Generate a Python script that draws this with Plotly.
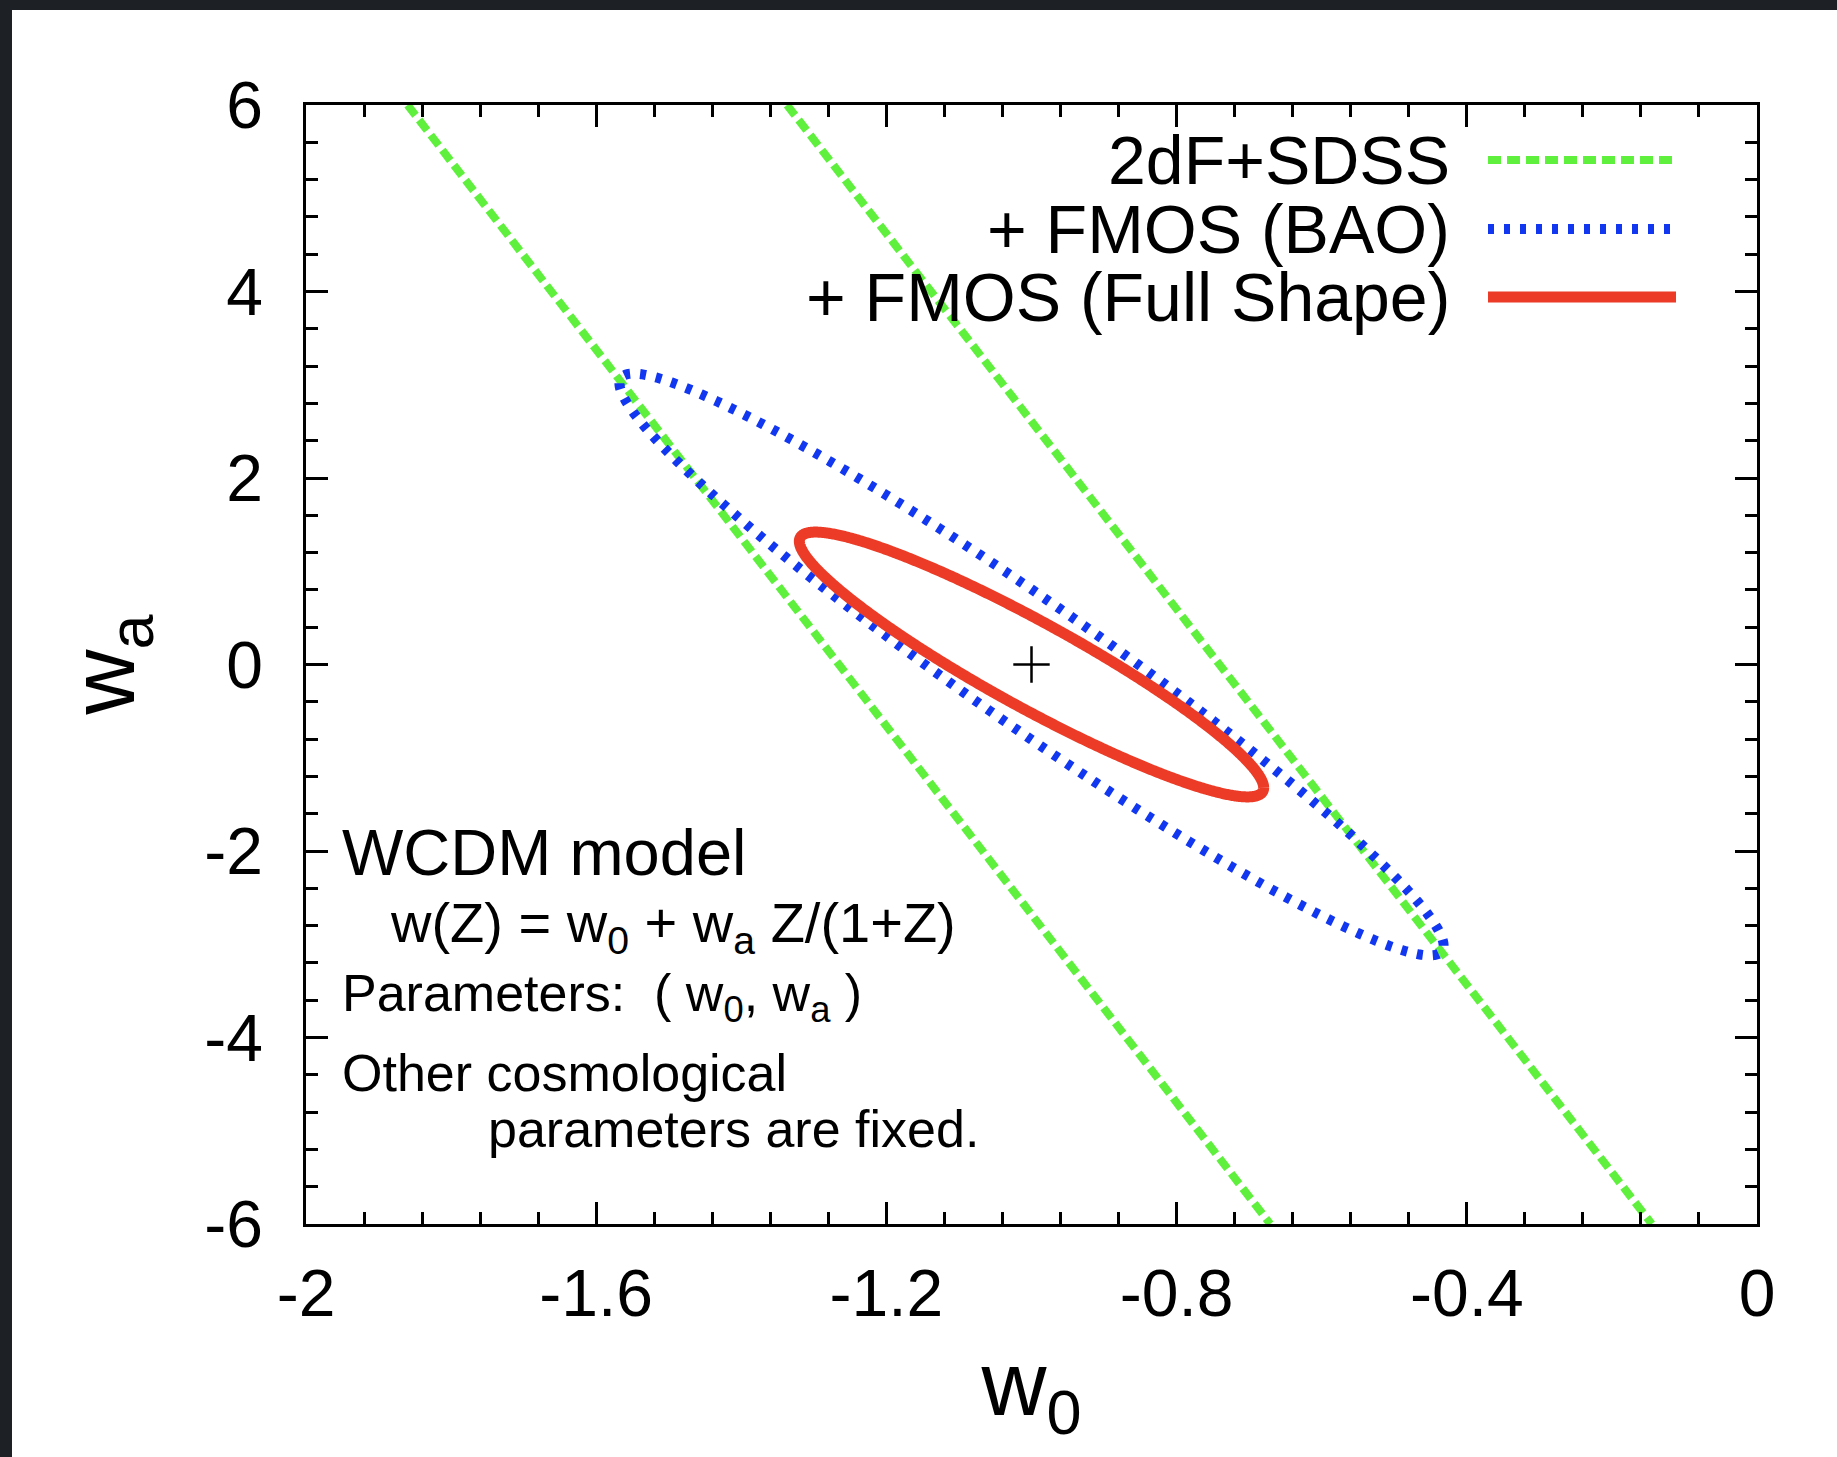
import numpy as np
import plotly.graph_objects as go

# ---------------- data ----------------
# 2dF+SDSS band: two parallel straight edges (w0 where each edge meets wa = +6 and wa = -6)
band_wa = [6.0, -6.0]
band_left_w0 = [-1.860, -0.671]
band_right_w0 = [-1.337, -0.145]

# fiducial point
fiducial_w0 = [-1.0]
fiducial_wa = [0.0]

# confidence ellipses: centre, half-extent in (w0, wa), correlation
bao_center = [-1.0, 0.0]
bao_sigma = [0.568, 3.12]
bao_rho = -0.966

full_center = [-1.0, 0.0]
full_sigma = [0.32, 1.42]
full_rho = -0.93

x_tick_vals = [-2, -1.6, -1.2, -0.8, -0.4, 0]
x_tick_labels = ["-2", "-1.6", "-1.2", "-0.8", "-0.4", "0"]
y_tick_vals = [-6, -4, -2, 0, 2, 4, 6]
y_tick_labels = ["-6", "-4", "-2", "0", "2", "4", "6"]

legend_labels = ["2dF+SDSS", "+ FMOS (BAO)", "+ FMOS (Full Shape)"]

# ---------------- styles ----------------
GREEN = "#5ef03c"
BLUE = "#1237f0"
RED = "#ec3b26"
FONT = "Liberation Sans, Arial, Helvetica, sans-serif"

green_line = dict(color=GREEN, width=8, dash="13px,6px")
blue_line = dict(color=BLUE, width=10, dash="6px,10px")
red_line = dict(color=RED, width=11)

W, H = 1837, 1457
PL, PR, PT, PB = 306, 1757, 105, 1224


def pxx(px):
    return (px - PL) / (PR - PL)


def pxy(py):
    return (PB - py) / (PB - PT)


def contour(center, sigma, rho, n=720):
    t = np.linspace(0, 2 * np.pi, n)
    x = center[0] + sigma[0] * np.cos(t)
    y = center[1] + sigma[1] * (rho * np.cos(t) + np.sqrt(1 - rho ** 2) * np.sin(t))
    return x, y


fig = go.Figure()

fig.add_trace(go.Scatter(x=band_left_w0, y=band_wa, mode="lines", line=green_line,
                         name=legend_labels[0], showlegend=False))
fig.add_trace(go.Scatter(x=band_right_w0, y=band_wa, mode="lines", line=green_line,
                         name=legend_labels[0], showlegend=False))

bx, by = contour(bao_center, bao_sigma, bao_rho)
fig.add_trace(go.Scatter(x=bx, y=by, mode="lines", line=dict(blue_line, simplify=False),
                         name=legend_labels[1], showlegend=False))

rx, ry = contour(full_center, full_sigma, full_rho)
fig.add_trace(go.Scatter(x=rx, y=ry, mode="lines", line=dict(red_line, simplify=False),
                         name=legend_labels[2], showlegend=False))

fig.add_trace(go.Scatter(x=fiducial_w0, y=fiducial_wa, mode="markers",
                         marker=dict(symbol="cross-thin", size=26,
                                     line=dict(width=2.5, color="black")),
                         showlegend=False))

shapes = []
annotations = []

# legend (text right-aligned, sample line to the right)
legend_y = [160, 229, 297]
for lab, ly, st in zip(legend_labels, legend_y, [green_line, blue_line, red_line]):
    annotations.append(dict(xref="paper", yref="paper", x=pxx(1452), y=pxy(ly),
                            xanchor="right", yanchor="middle", showarrow=False,
                            text=lab, font=dict(family=FONT, size=68, color="black")))
    shapes.append(dict(type="line", xref="paper", yref="paper",
                       x0=pxx(1488), x1=pxx(1676), y0=pxy(ly), y1=pxy(ly), line=st))

# text block
txt = [
    ("WCDM model", 340, 852, 65),
    ("w(Z) = w<sub>0</sub> + w<sub>a</sub> Z/(1+Z)", 388, 926, 56),
    ("Parameters:  ( w<sub>0</sub>, w<sub>a</sub> )", 340, 997, 52),
    ("Other cosmological", 340, 1073, 52),
    ("parameters are fixed.", 486, 1129, 52),
]
for t, x, y, s in txt:
    annotations.append(dict(xref="paper", yref="paper", x=pxx(x), y=pxy(y),
                            xanchor="left", yanchor="middle", showarrow=False,
                            text=t, font=dict(family=FONT, size=s, color="black")))

# dark slide frame at top and left
DARK = "#1d2125"
shapes.append(dict(type="rect", xref="paper", yref="paper", x0=pxx(0), x1=pxx(W),
                   y0=pxy(10), y1=pxy(0), fillcolor=DARK, line=dict(width=0), layer="above"))
shapes.append(dict(type="rect", xref="paper", yref="paper", x0=pxx(0), x1=pxx(12),
                   y0=pxy(H), y1=pxy(0), fillcolor=DARK, line=dict(width=0), layer="above"))

axis_common = dict(showgrid=False, zeroline=False, showline=True, linecolor="black",
                   linewidth=2.5, mirror="ticks", ticks="inside", ticklen=22,
                   tickwidth=2.5, tickcolor="black",
                   tickfont=dict(family=FONT, size=66, color="black"))

fig.update_layout(
    width=W, height=H, autosize=False,
    margin=dict(l=PL, r=W - PR, t=PT, b=H - PB),
    paper_bgcolor="white", plot_bgcolor="white",
    shapes=shapes, annotations=annotations,
    xaxis=dict(range=[-2, 0], tickmode="array", tickvals=x_tick_vals, ticktext=x_tick_labels,
               ticklabelstandoff=10,
               minor=dict(tickmode="linear", tick0=-2, dtick=0.08, ticks="inside",
                          ticklen=12, tickwidth=2.5, tickcolor="black"),
               title=dict(text="w<sub>0</sub>", font=dict(family=FONT, size=90, color="black"),
                          standoff=24),
               **axis_common),
    yaxis=dict(range=[-6, 6], tickmode="array", tickvals=y_tick_vals, ticktext=y_tick_labels,
               ticklabelstandoff=27,
               minor=dict(tickmode="linear", tick0=-6, dtick=0.4, ticks="inside",
                          ticklen=12, tickwidth=2.5, tickcolor="black"),
               title=dict(text="w<sub>a</sub>", font=dict(family=FONT, size=90, color="black"),
                          standoff=40),
               **axis_common),
)

fig.write_html("out.html", config={"displayModeBar": False},
               post_script="document.body.style.margin='0px';")
